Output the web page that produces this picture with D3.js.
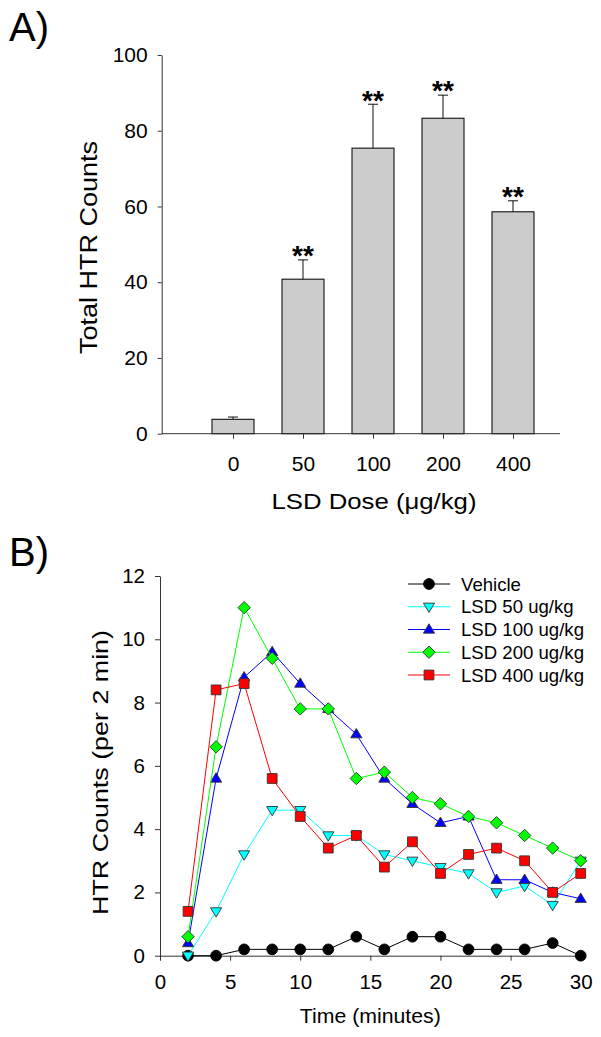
<!DOCTYPE html>
<html>
<head>
<meta charset="utf-8">
<script src="https://cdn.jsdelivr.net/npm/d3@7/dist/d3.min.js"></script>
<style>
  html, body { margin: 0; padding: 0; background: #fff; }
  svg { display: block; font-family: "Liberation Sans", Arial, sans-serif; }
</style>
</head>
<body>
<svg id="chart" width="601" height="1037"></svg>
<script>
// ---------- Panel A data ----------
const doses = ["0", "50", "100", "200", "400"];
const totalHTR = [3.8, 40.8, 75.4, 83.3, 58.6];
const totalSEM = [0.6, 5.1, 11.6, 6.1, 2.9];
const significance = ["", "**", "**", "**", "**"];
const yTicksA = [0, 20, 40, 60, 80, 100];

// ---------- Panel B data ----------
const timeMin = [2, 4, 6, 8, 10, 12, 14, 16, 18, 20, 22, 24, 26, 28, 30];
const vehicle = [0, 0, 0.2, 0.2, 0.2, 0.2, 0.6, 0.2, 0.6, 0.6, 0.2, 0.2, 0.2, 0.4, 0];
const lsd50  = [0, 1.4, 3.2, 4.6, 4.6, 3.8, 3.8, 3.2, 3.0, 2.8, 2.6, 2.0, 2.2, 1.6, 3.0];
const lsd100 = [0.4, 5.6, 8.8, 9.6, 8.6, 7.8, 7.0, 5.6, 4.8, 4.2, 4.4, 2.4, 2.4, 2.0, 1.8];
const lsd200 = [0.6, 6.6, 11.0, 9.4, 7.8, 7.8, 5.6, 5.8, 5.0, 4.8, 4.4, 4.2, 3.8, 3.4, 3.0];
const lsd400 = [1.4, 8.4, 8.6, 5.6, 4.4, 3.4, 3.8, 2.8, 3.6, 2.6, 3.2, 3.4, 3.0, 2.0, 2.6];
const seriesNames = ["Vehicle", "LSD 50 ug/kg", "LSD 100 ug/kg", "LSD 200 ug/kg", "LSD 400 ug/kg"];
const xTicksB = [0, 5, 10, 15, 20, 25, 30];
const yTicksB = [0, 2, 4, 6, 8, 10, 12];

const svg = d3.select("#chart");
const axisColor = "#333";

// ================= Panel A =================
const A = { left: 161.7, right: 560, top: 55, bottom: 433.7 };
const xA = d3.scalePoint().domain(doses).range([233, 513]);
const yA = d3.scaleLinear().domain([0, 100]).range([A.bottom, A.top]);
const barW = 42;

const gA = svg.append("g");

// bars
gA.selectAll("rect.bar").data(doses).join("rect")
  .attr("x", (d) => xA(d) - barW / 2)
  .attr("y", (d, i) => yA(totalHTR[i]))
  .attr("width", barW)
  .attr("height", (d, i) => yA(0) - yA(totalHTR[i]))
  .attr("fill", "#cccccc")
  .attr("stroke", "#111")
  .attr("stroke-width", 1.1);

// error bars (upper only)
gA.selectAll("line.err").data(doses).join("line")
  .attr("x1", (d) => xA(d)).attr("x2", (d) => xA(d))
  .attr("y1", (d, i) => yA(totalHTR[i]))
  .attr("y2", (d, i) => yA(totalHTR[i] + totalSEM[i]))
  .attr("stroke", "#111").attr("stroke-width", 1);
gA.selectAll("line.cap").data(doses).join("line")
  .attr("x1", (d) => xA(d) - 5).attr("x2", (d) => xA(d) + 5)
  .attr("y1", (d, i) => yA(totalHTR[i] + totalSEM[i]))
  .attr("y2", (d, i) => yA(totalHTR[i] + totalSEM[i]))
  .attr("stroke", "#111").attr("stroke-width", 1);

// significance stars
const starFs = 28;
gA.selectAll("text.sig").data(doses).join("text")
  .attr("x", (d) => xA(d))
  .attr("y", (d, i) => yA(totalHTR[i] + totalSEM[i]) - 7 + 0.44 * starFs)
  .attr("text-anchor", "middle")
  .attr("font-size", starFs)
  .attr("font-weight", "bold")
  .attr("fill", "#000")
  .text((d, i) => significance[i]);

// axes
const yAxisA = d3.axisLeft(yA).tickValues(yTicksA).tickSize(4).tickPadding(10).tickSizeOuter(0);
const gyA = gA.append("g").attr("transform", `translate(${A.left},0)`).call(yAxisA);
const xAxisA = d3.axisBottom(xA).tickSize(5).tickPadding(17).tickSizeOuter(0);
const gxA = gA.append("g").attr("transform", `translate(0,${A.bottom})`).call(xAxisA);
gxA.select(".domain").remove();
gxA.append("line").attr("x1", A.left).attr("x2", A.right).attr("stroke", axisColor);
[gyA, gxA].forEach((g) => {
  g.selectAll(".domain, .tick line, line").attr("stroke", axisColor);
  g.selectAll("text").attr("font-size", 21).attr("fill", "#000").attr("font-family", null);
});

// labels
svg.append("text").attr("x", 9).attr("y", 41).attr("font-size", 40).text("A)");
svg.append("text")
  .attr("transform", "translate(97,247.5) rotate(-90)")
  .attr("text-anchor", "middle").attr("font-size", 23)
  .attr("textLength", 213).attr("lengthAdjust", "spacingAndGlyphs")
  .text("Total HTR Counts");
svg.append("text")
  .attr("x", 374).attr("y", 509)
  .attr("text-anchor", "middle").attr("font-size", 22)
  .attr("textLength", 205).attr("lengthAdjust", "spacingAndGlyphs")
  .text("LSD Dose (μg/kg)");

// ================= Panel B =================
const B = { left: 160, right: 580.7, top: 576, bottom: 955.7 };
const xB = d3.scaleLinear().domain([0, 30]).range([B.left, B.right]);
const yB = d3.scaleLinear().domain([0, 12]).range([B.bottom, B.top]);

const gB = svg.append("g");
const yAxisB = d3.axisLeft(yB).tickValues(yTicksB).tickSize(5).tickPadding(10).tickSizeOuter(0);
const gyB = gB.append("g").attr("transform", `translate(${B.left},0)`).call(yAxisB);
const xAxisB = d3.axisBottom(xB).tickValues(xTicksB).tickSize(5).tickPadding(14).tickSizeOuter(0);
const gxB = gB.append("g").attr("transform", `translate(0,${B.bottom})`).call(xAxisB);
[gyB, gxB].forEach((g) => {
  g.selectAll(".domain, .tick line").attr("stroke", axisColor);
  g.selectAll("text").attr("font-size", 20.5).attr("fill", "#000").attr("font-family", null);
});

// marker shapes
function markerPath(type) {
  if (type === "circle") {
    const r = 5.4;
    return `M${-r},0A${r},${r} 0 1,0 ${r},0A${r},${r} 0 1,0 ${-r},0Z`;
  }
  if (type === "triDown") { const w = 5.6, h = 5.2; return `M${-w},${-h * 0.7}L${w},${-h * 0.7}L0,${h * 1.1}Z`; }
  if (type === "triUp") { const w = 5.6, h = 5.2; return `M${-w},${h * 0.7}L${w},${h * 0.7}L0,${-h * 1.1}Z`; }
  if (type === "diamond") { const s = 6.2; return `M0,${-s}L${s},0L0,${s}L${-s},0Z`; }
  if (type === "square") { const s = 4.9; return `M${-s},${-s}L${s},${-s}L${s},${s}L${-s},${s}Z`; }
}
const seriesData = [vehicle, lsd50, lsd100, lsd200, lsd400];
const seriesColors = ["#000000", "#00ffff", "#0000ff", "#00ff00", "#ff0000"];
const seriesShapes = ["circle", "triDown", "triUp", "diamond", "square"];

const line = d3.line().x((d) => xB(d[0])).y((d) => yB(d[1]));
seriesData.forEach((vals, si) => {
  const pts = timeMin.map((t, i) => [t, vals[i]]);
  const g = gB.append("g");
  g.append("path").datum(pts).attr("d", line)
    .attr("fill", "none").attr("stroke", seriesColors[si]).attr("stroke-width", 1);
  g.selectAll("path.m").data(pts).join("path")
    .attr("transform", (d) => `translate(${xB(d[0])},${yB(d[1])})`)
    .attr("d", markerPath(seriesShapes[si]))
    .attr("fill", seriesColors[si])
    .attr("stroke", si === 0 ? "#000" : "#333").attr("stroke-width", 0.9);
});

// legend
const legRowY = d3.scaleLinear().domain([0, 4]).range([584, 675]);
const leg = gB.append("g");
seriesNames.forEach((name, si) => {
  const y = legRowY(si);
  leg.append("line").attr("x1", 408).attr("x2", 450).attr("y1", y).attr("y2", y)
    .attr("stroke", seriesColors[si]).attr("stroke-width", 1);
  leg.append("path").attr("transform", `translate(429,${y})`)
    .attr("d", markerPath(seriesShapes[si]))
    .attr("fill", seriesColors[si]).attr("stroke", si === 0 ? "#000" : "#333").attr("stroke-width", 0.9);
  leg.append("text").attr("x", 461).attr("y", y + 6.5).attr("font-size", 18.6).text(name);
});

// labels
svg.append("text").attr("x", 9).attr("y", 566).attr("font-size", 40).text("B)");
svg.append("text")
  .attr("transform", "translate(108,772.5) rotate(-90)")
  .attr("text-anchor", "middle").attr("font-size", 22)
  .attr("textLength", 285).attr("lengthAdjust", "spacingAndGlyphs")
  .text("HTR Counts (per 2 min)");
svg.append("text")
  .attr("x", 370.3).attr("y", 1023)
  .attr("text-anchor", "middle").attr("font-size", 20)
  .attr("textLength", 141).attr("lengthAdjust", "spacingAndGlyphs")
  .text("Time (minutes)");
</script>
</body>
</html>
